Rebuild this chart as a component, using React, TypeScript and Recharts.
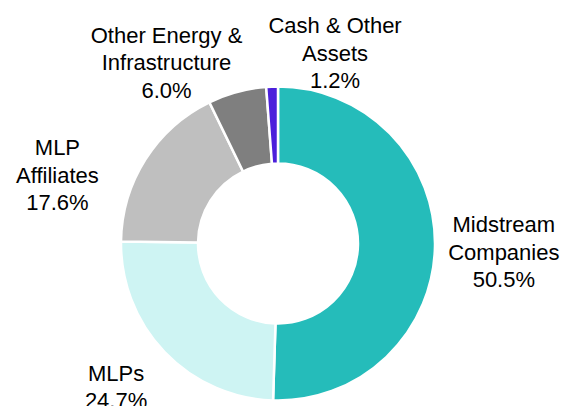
import React from "react";
import { PieChart, Pie, Cell } from "recharts";

const categories = [
  "Midstream Companies",
  "MLPs",
  "MLP Affiliates",
  "Other Energy & Infrastructure",
  "Cash & Other Assets",
];
const values = [50.5, 24.7, 17.6, 6.0, 1.2];
const labelLines = [
  ["Midstream", "Companies"],
  ["MLPs"],
  ["MLP", "Affiliates"],
  ["Other Energy &", "Infrastructure"],
  ["Cash & Other", "Assets"],
];

const colors = ["#25BCBA", "#CEF4F3", "#BFBFBF", "#7F7F7F", "#4B1FDB"];
// label placement: angle offset from slice mid-angle (deg), distance from centre (px)
const labelPlacement = [
  { dAngle: -1.25, dist: 226 },
  { dAngle: -2.3, dist: 216 },
  { dAngle: 15.1, dist: 231 },
  { dAngle: 16.5, dist: 212.6 },
  { dAngle: -18.8, dist: 199.3 },
];

const data = categories.map((name, i) => ({ name, value: values[i] }));

const RADIAN = Math.PI / 180;
const LINE_H = 27.5;
const FONT = 22;

const renderLabel = (props: any) => {
  const { cx, cy, midAngle, index, value } = props;
  const p = labelPlacement[index];
  const a = (midAngle + p.dAngle) * RADIAN;
  const x = cx + p.dist * Math.cos(a);
  const y = cy - p.dist * Math.sin(a);
  const lines = [...labelLines[index], `${Number(value).toFixed(1)}%`];
  const n = lines.length;
  const firstCenter = y - ((n - 1) * LINE_H) / 2;
  return (
    <text
      x={x}
      y={firstCenter}
      textAnchor="middle"
      fill="#000"
      fontFamily="'Liberation Sans', Arial, sans-serif"
      fontSize={FONT}
    >
      {lines.map((t, i) => (
        <tspan key={i} x={x} y={firstCenter + i * LINE_H + 8}>
          {t}
        </tspan>
      ))}
    </text>
  );
};

export default function App() {
  return (
    <div style={{ position: "absolute", left: 0, top: 0, width: 566, height: 406, background: "#fff" }}>
      <PieChart width={566} height={406} margin={{ top: 0, right: 0, bottom: 0, left: 0 }}>
        <Pie
          data={data}
          dataKey="value"
          nameKey="name"
          cx={278}
          cy={243.5}
          innerRadius={80}
          outerRadius={157}
          startAngle={90}
          endAngle={-270}
          stroke="#FFFFFF"
          strokeWidth={2.5}
          label={renderLabel}
          labelLine={false}
          isAnimationActive={false}
        >
          {data.map((d, i) => (
            <Cell key={d.name} fill={colors[i]} />
          ))}
        </Pie>
      </PieChart>
    </div>
  );
}
